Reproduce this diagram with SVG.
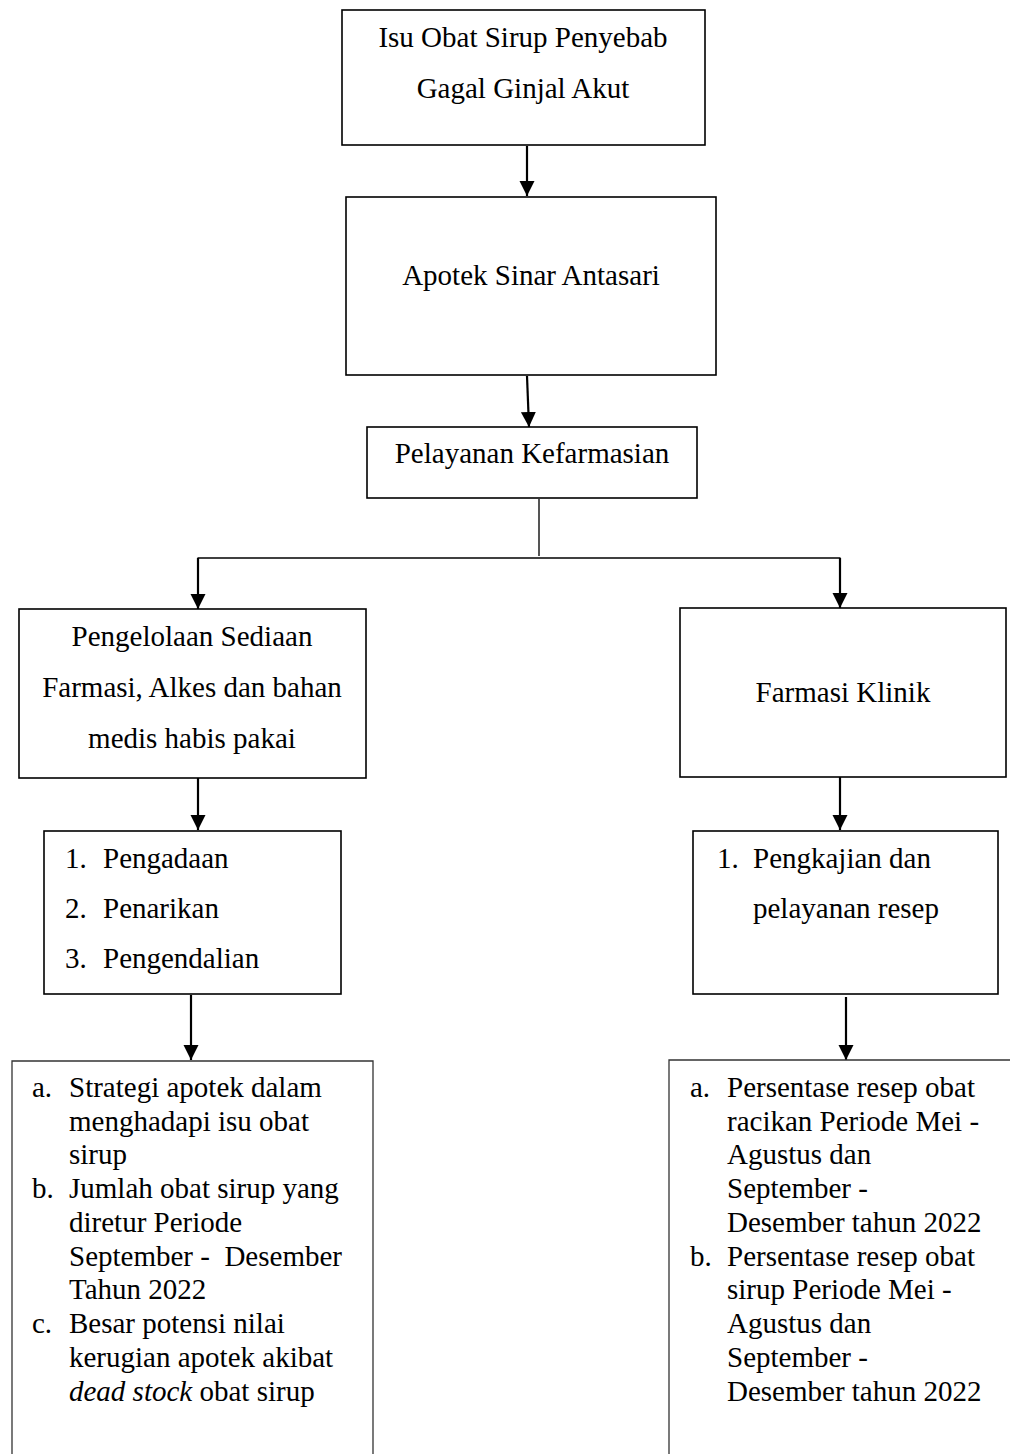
<svg xmlns="http://www.w3.org/2000/svg" width="1010" height="1454" viewBox="0 0 1010 1454">
<defs>
<style>
text{font-family:"Liberation Serif","Times New Roman",serif;font-size:29px;fill:#000}
.c{text-anchor:middle}
.box{fill:#fff;stroke:#000;stroke-width:1.6}
.open{fill:none;stroke:#333;stroke-width:1.3}
.arr{stroke:#000;stroke-width:2.2;fill:none;marker-end:url(#ah)}
.thin{stroke:#000;stroke-width:1.3;fill:none}
.gray{stroke:#555;stroke-width:2;fill:none}
</style>
<marker id="ah" markerUnits="userSpaceOnUse" markerWidth="16" markerHeight="16" viewBox="0 0 16 16" refX="15" refY="8" orient="auto">
<path d="M0,0.5 L15,8 L0,15.5 Z" fill="#000"/>
</marker>
</defs>
<rect width="1010" height="1454" fill="#fff"/>

<g id="connectors">
<line class="arr" x1="527" y1="146" x2="527" y2="196"/>
<line class="arr" x1="527" y1="376" x2="529" y2="427"/>
<line class="gray" x1="539" y1="499" x2="539" y2="556"/>
<line class="thin" x1="197.5" y1="558" x2="840.5" y2="558"/>
<line class="arr" x1="198" y1="558" x2="198" y2="609"/>
<line class="arr" x1="840" y1="558" x2="840" y2="608"/>
<line class="arr" x1="198" y1="778" x2="198" y2="830"/>
<line class="arr" x1="840" y1="777" x2="840" y2="830"/>
<line class="arr" x1="191" y1="995" x2="191" y2="1060"/>
<line class="arr" x1="846" y1="997" x2="846" y2="1060"/>
</g>

<g id="n-isu">
<rect class="box" x="342" y="10" width="363" height="135"/>
<text class="c" x="523" y="47">Isu Obat Sirup Penyebab</text>
<text class="c" x="523" y="98">Gagal Ginjal Akut</text>
</g>

<g id="n-apotek">
<rect class="box" x="346" y="197" width="370" height="178"/>
<text class="c" x="531" y="285">Apotek Sinar Antasari</text>
</g>

<g id="n-pelayanan">
<rect class="box" x="367" y="427" width="330" height="71"/>
<text class="c" x="532" y="463">Pelayanan Kefarmasian</text>
</g>

<g id="n-pengelolaan">
<rect class="box" x="19" y="609" width="347" height="169"/>
<text class="c" x="192" y="646">Pengelolaan Sediaan</text>
<text class="c" x="192" y="697">Farmasi, Alkes dan bahan</text>
<text class="c" x="192" y="748">medis habis pakai</text>
</g>

<g id="n-farmasi-klinik">
<rect class="box" x="680" y="608" width="326" height="169"/>
<text class="c" x="843" y="702">Farmasi Klinik</text>
</g>

<g id="n-list-left">
<rect class="box" x="44" y="831" width="297" height="163"/>
<text x="65" y="868">1.</text><text x="103" y="868">Pengadaan</text>
<text x="65" y="918">2.</text><text x="103" y="918">Penarikan</text>
<text x="65" y="968">3.</text><text x="103" y="968">Pengendalian</text>
</g>

<g id="n-list-right">
<rect class="box" x="693" y="831" width="305" height="163"/>
<text x="717" y="868">1.</text><text x="753" y="868">Pengkajian dan</text>
<text x="753" y="918">pelayanan resep</text>
</g>

<g id="n-bottom-left">
<path class="open" d="M12,1454 V1061 H373 V1454"/>
<text x="32" y="1097">a.</text>
<text x="69" y="1097">Strategi apotek dalam</text>
<text x="69" y="1131">menghadapi isu obat</text>
<text x="69" y="1164">sirup</text>
<text x="32" y="1198">b.</text>
<text x="69" y="1198">Jumlah obat sirup yang</text>
<text x="69" y="1232">diretur Periode</text>
<text x="69" y="1266" xml:space="preserve">September -  Desember</text>
<text x="69" y="1299">Tahun 2022</text>
<text x="32" y="1333">c.</text>
<text x="69" y="1333">Besar potensi nilai</text>
<text x="69" y="1367">kerugian apotek akibat</text>
<text x="69" y="1401"><tspan font-style="italic">dead stock</tspan> obat sirup</text>
</g>

<g id="n-bottom-right">
<path class="open" d="M669,1454 V1060 H1010"/>
<text x="690" y="1097">a.</text>
<text x="727" y="1097">Persentase resep obat</text>
<text x="727" y="1131">racikan Periode Mei -</text>
<text x="727" y="1164">Agustus dan</text>
<text x="727" y="1198">September -</text>
<text x="727" y="1232">Desember tahun 2022</text>
<text x="690" y="1266">b.</text>
<text x="727" y="1266">Persentase resep obat</text>
<text x="727" y="1299">sirup Periode Mei -</text>
<text x="727" y="1333">Agustus dan</text>
<text x="727" y="1367">September -</text>
<text x="727" y="1401">Desember tahun 2022</text>
</g>
</svg>
